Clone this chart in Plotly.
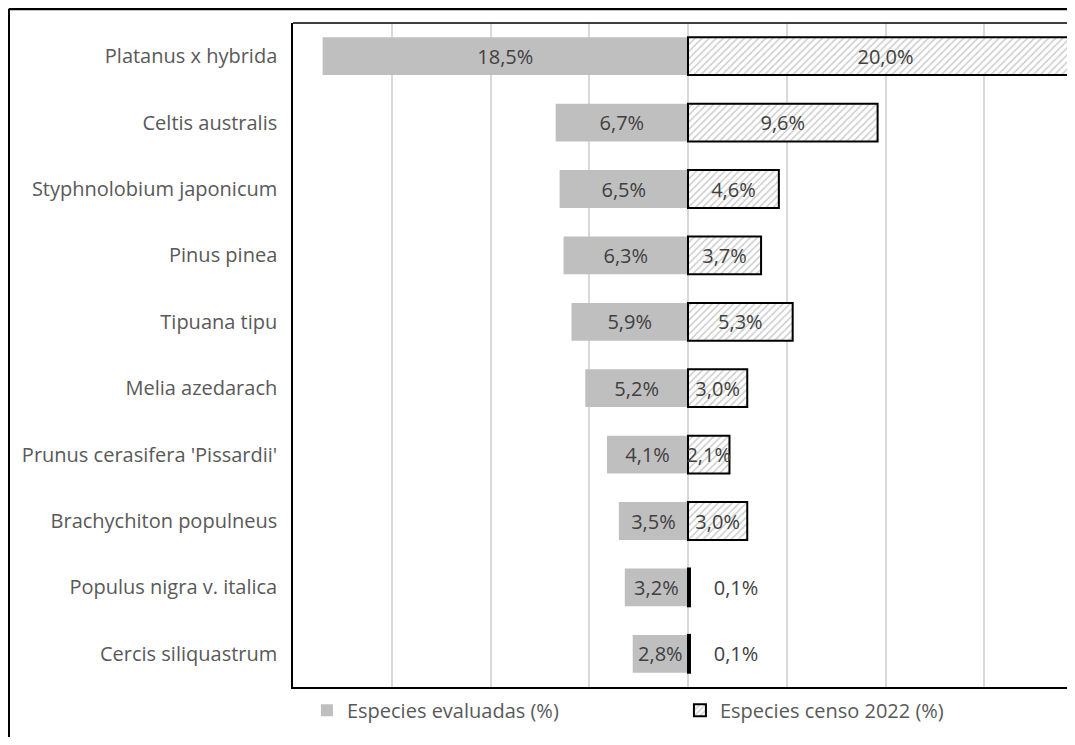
import plotly.graph_objects as go

species = ["Platanus x hybrida", "Celtis australis", "Styphnolobium japonicum",
           "Pinus pinea", "Tipuana tipu", "Melia azedarach",
           "Prunus cerasifera 'Pissardii'", "Brachychiton populneus",
           "Populus nigra v. italica", "Cercis siliquastrum"]
evaluadas = [18.5, 6.7, 6.5, 6.3, 5.9, 5.2, 4.1, 3.5, 3.2, 2.8]
censo = [20.0, 9.6, 4.6, 3.7, 5.3, 3.0, 2.1, 3.0, 0.1, 0.1]

FONT = "Open Sans"
TXT = "#595959"
# the page body adds an 8px margin all round; keep the page inside the window
W, H = 1059, 729
L, R, T, B = 285, 0, 15, 50


def pct(v):
    return f"{v:.1f}%".replace(".", ",")


fig = go.Figure()

fig.add_trace(go.Bar(
    y=species, x=[-v for v in evaluadas], orientation="h",
    name="Especies evaluadas (%)",
    marker=dict(color="#bfbfbf", line=dict(width=0)),
    text=[pct(v) for v in evaluadas], textposition="inside",
    insidetextanchor="middle", constraintext="none",
    textfont=dict(family=FONT, size=20, color="#404040"),
    hoverinfo="skip",
))

fig.add_trace(go.Bar(
    y=species, x=censo, orientation="h",
    name="Especies censo 2022 (%)",
    marker=dict(color="white",
                line=dict(color="black", width=2),
                pattern=dict(shape="/", fgcolor="#999999", bgcolor="white",
                             size=5, solidity=0.3)),
    # small values sit outside the bar, a little away from it
    text=[pct(v) if v > 1 else "\u00a0\u00a0\u00a0\u00a0" + pct(v) for v in censo],
    textposition=["inside" if v > 1 else "outside" for v in censo],
    insidetextanchor="middle", constraintext="none",
    textfont=dict(family=FONT, size=20, color="#404040"),
    hoverinfo="skip",
))

pw = W - L - R
ph = H - T - B
# outer chart frame (only top and left edges are visible)
fx = (0.75 - L) / pw
fy = 1 + (T - 1) / ph
fig.add_shape(type="line", xref="paper", yref="paper", x0=fx, x1=1.2, y0=fy, y1=fy,
              line=dict(color="black", width=2.5))
fig.add_shape(type="line", xref="paper", yref="paper", x0=fx, x1=fx, y0=fy, y1=-0.2,
              line=dict(color="black", width=2.5))
# top edge of the plot area
fig.add_shape(type="line", xref="paper", yref="paper", x0=0, x1=1, y0=1, y1=1,
              line=dict(color="black", width=1.5))

fig.update_layout(
    width=W, height=H,
    margin=dict(l=L, r=R, t=T, b=B),
    barmode="relative", bargap=0.43,
    paper_bgcolor="white", plot_bgcolor="white",
    font=dict(family=FONT, size=20, color=TXT),
    xaxis=dict(range=[-20, 19.19], dtick=5, tick0=0, showticklabels=False,
               showgrid=True, gridcolor="#d9d9d9", gridwidth=1.5,
               zeroline=False, showline=True, linecolor="black", linewidth=1.5,
               mirror=False, ticks=""),
    yaxis=dict(autorange="reversed", showgrid=False, zeroline=False,
               showline=True, linecolor="black", linewidth=1.5, mirror=False,
               ticks="", ticklabelstandoff=10,
               tickfont=dict(family=FONT, size=20, color=TXT)),
    legend=dict(orientation="h", x=0.018, xanchor="left",
                y=-0.035, yanchor="middle",
                entrywidth=328, entrywidthmode="pixels",
                bgcolor="rgba(0,0,0,0)",
                font=dict(family=FONT, size=20, color=TXT),
                traceorder="normal"),
    showlegend=True,
)

fig.write_html("out.html")
